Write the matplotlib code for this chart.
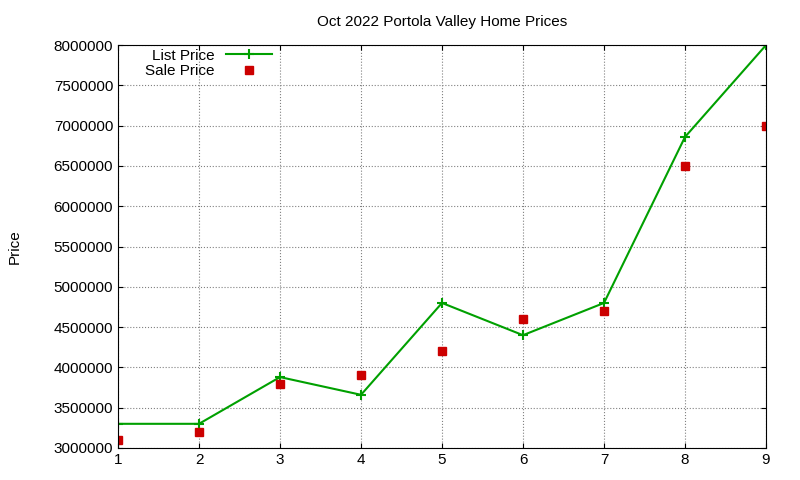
import matplotlib
matplotlib.use("Agg")
import matplotlib.pyplot as plt

x = [1, 2, 3, 4, 5, 6, 7, 8, 9]
list_price = [3300000, 3300000, 3880000, 3660000, 4800000, 4400000, 4800000, 6860000, 8000000]
sale_price = [3100000, 3200000, 3800000, 3900000, 4200000, 4600000, 4700000, 6500000, 7000000]

plt.rcParams['font.family'] = ['Liberation Sans', 'DejaVu Sans']
fig = plt.figure(figsize=(8, 4.8), dpi=100)
ax = fig.add_axes([0.1475, 0.0667, 0.81, 0.8393])
ax.plot(x, list_price, color='#00a000', lw=1.5, marker='+', ms=7, mew=1.5, label='List Price')
ax.plot(x, sale_price, ls='none', color='#cc0000', marker='s', ms=5.5, label='Sale Price')
ax.set_xlim(1, 9)
ax.set_ylim(3000000, 8000000)
ax.set_xticks(x)
ax.set_yticks(range(3000000, 8000001, 500000))
ax.ticklabel_format(axis='y', style='plain', useOffset=False)
ax.grid(True, ls=':', color='gray', lw=0.8)
ax.tick_params(direction='in', labelsize=11, top=True, right=True)
ax.set_title('Oct 2022 Portola Valley Home Prices', fontsize=11, pad=14)
ax.set_ylabel('Price', fontsize=11)
ax.yaxis.set_label_coords(-0.148, 0.5)
ax.legend(loc='upper left', markerfirst=False, frameon=False, fontsize=11,
          bbox_to_anchor=(0.02, 1.025), handlelength=3, labelspacing=0.1)
fig.savefig('out.png')
